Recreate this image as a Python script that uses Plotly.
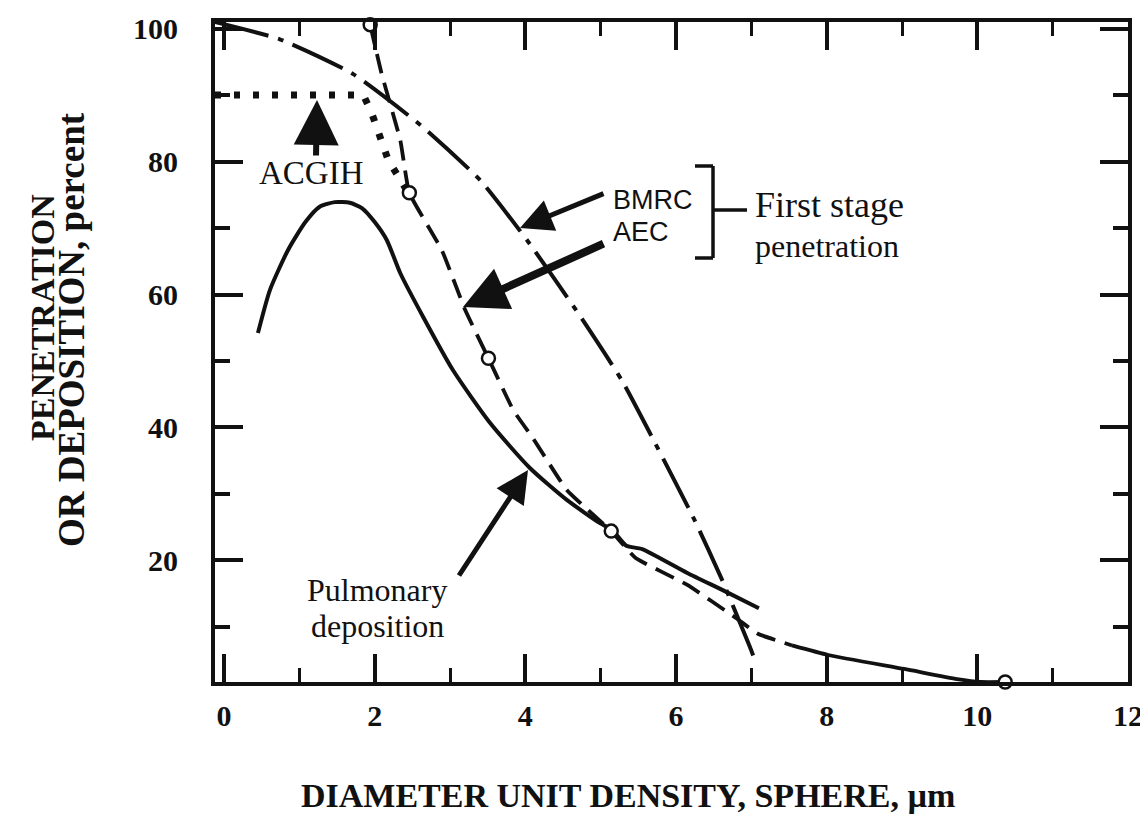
import plotly.graph_objects as go

# ---------------- data ----------------
bmrc_x = [-0.12, 0.74, 1.71, 2.64, 3.40, 4.04, 4.70, 5.28, 5.72, 6.24, 6.61, 6.98, 7.04]
bmrc_y = [101.0, 98.4, 93.2, 85.2, 77.2, 67.9, 57.2, 47.1, 37.7, 26.2, 17.1, 7.0, 5.2]

aec_x = [1.94, 2.09, 2.34, 2.46, 2.89, 3.20, 3.51, 3.84, 4.10, 4.55, 5.14, 5.46, 6.15,
         6.80, 7.08, 7.54, 8.02, 9.03, 9.73, 10.04, 10.37]
aec_y = [100.6, 93.3, 83.2, 75.3, 66.7, 57.7, 50.4, 42.6, 38.4, 30.6, 24.4, 20.4, 16.3,
         11.3, 9.0, 7.2, 5.76, 3.66, 2.15, 1.7, 1.7]
aec_circle_x = [1.94, 2.46, 3.51, 5.14, 10.37]
aec_circle_y = [100.6, 75.3, 50.4, 24.4, 1.7]

pulm_x = [0.45, 0.61, 0.85, 1.08, 1.27, 1.47, 1.67, 1.83, 2.00, 2.16, 2.34, 2.64, 3.04,
          3.53, 4.06, 4.55, 4.99, 5.15, 5.34, 5.55, 6.15, 6.66, 7.10]
pulm_y = [54.2, 60.7, 66.7, 70.9, 73.2, 73.9, 73.8, 73.0, 70.9, 68.2, 63.2, 56.7, 48.6,
          40.7, 33.9, 29.1, 25.6, 24.6, 22.2, 21.7, 18.1, 15.3, 12.8]

acgih_x = [-0.12, 1.85, 1.96, 2.09, 2.18, 2.29, 2.44]
acgih_y = [90.0, 90.0, 87.3, 82.8, 80.2, 78.2, 75.4]

x_ticks = [0, 2, 4, 6, 8, 10, 12]
y_ticks = [20, 40, 60, 80, 100]

# ---------------- layout geometry ----------------
PAGE = 8                      # default body margin of the html page
VW, VH = 1148, 824            # browser window
PL, PT, PR, PB = 215, 22, 1128, 682   # wanted plot box in window pixels
W, H = VW - PAGE, VH - PAGE
L, T = PL - PAGE, PT - PAGE
R = W - (PR - PAGE)
B = H - (PB - PAGE)
XR = [-0.12, 12.0]
YR = [1.7, 101.0]
pw, ph = PR - PL, PB - PT

def X(px):
    return XR[0] + (px - PL) * (XR[1] - XR[0]) / pw

def Y(py):
    return YR[0] + (PB - py) * (YR[1] - YR[0]) / ph

INK = "#111111"
SERIF = "Liberation Serif, Times New Roman, serif"
SANS = "Liberation Sans, Arial, sans-serif"

fig = go.Figure()

split = aec_x.index(7.54)
fig.add_trace(go.Scatter(x=aec_x[:split + 1], y=aec_y[:split + 1], mode="lines",
                         line=dict(color=INK, width=3.8, dash="20px,10px", shape="spline", smoothing=0.4),
                         showlegend=False, hoverinfo="skip"))
fig.add_trace(go.Scatter(x=aec_x[split:], y=aec_y[split:], mode="lines",
                         line=dict(color=INK, width=3.8, shape="spline", smoothing=0.5),
                         showlegend=False, hoverinfo="skip"))
fig.add_trace(go.Scatter(x=bmrc_x, y=bmrc_y, mode="lines",
                         line=dict(color=INK, width=4, dash="55px,10px,6px,10px", shape="spline", smoothing=0.5),
                         showlegend=False, hoverinfo="skip"))
fig.add_trace(go.Scatter(x=pulm_x, y=pulm_y, mode="lines",
                         line=dict(color=INK, width=4, shape="spline", smoothing=0.6),
                         showlegend=False, hoverinfo="skip"))
fig.add_trace(go.Scatter(x=acgih_x, y=acgih_y, mode="lines",
                         line=dict(color=INK, width=7, dash="6px,13px"),
                         showlegend=False, hoverinfo="skip"))
fig.add_trace(go.Scatter(x=aec_circle_x, y=aec_circle_y, mode="markers", cliponaxis=False,
                         marker=dict(symbol="circle", size=13, color="white",
                                     line=dict(color=INK, width=2.5)),
                         showlegend=False, hoverinfo="skip"))

axis_common = dict(showline=True, linecolor=INK, linewidth=4, mirror="ticks",
                   ticks="inside", tickcolor=INK, tickwidth=3.5, ticklen=28,
                   showgrid=False, zeroline=False,
                   tickfont=dict(family=SERIF, size=30, color=INK, weight="bold"))

fig.update_xaxes(range=XR, tickvals=x_ticks, ticktext=[str(v) for v in x_ticks],
                 minor=dict(tickvals=[1, 3, 5, 7, 9, 11], ticklen=14, tickwidth=3, tickcolor=INK,
                            ticks="inside"),
                 ticklabelstandoff=4, **axis_common)
fig.update_yaxes(range=YR, tickvals=y_ticks, ticktext=[str(v) for v in y_ticks],
                 minor=dict(tickvals=[10, 30, 50, 70, 90], ticklen=15, tickwidth=3.5, tickcolor=INK,
                            ticks="inside"),
                 ticklabelstandoff=27, **axis_common)

ann = []
def text(px, py, s, size, family=SERIF, anchor="center", bold=False):
    ann.append(dict(x=X(px), y=Y(py), xref="x", yref="y", text=s, showarrow=False,
                    xanchor=anchor, yanchor="middle",
                    font=dict(family=family, size=size, color=INK,
                              weight="bold" if bold else "normal")))

def arrow(tip, tail, width, size):
    ann.append(dict(x=X(tip[0]), y=Y(tip[1]), ax=X(tail[0]), ay=Y(tail[1]),
                    xref="x", yref="y", axref="x", ayref="y", text="", showarrow=True,
                    arrowhead=2, arrowwidth=width, arrowsize=size, arrowcolor=INK))

text(311, 173, "ACGIH", 33)
arrow((317, 100), (316, 157), 6, 1.5)
text(611, 200, "BMRC", 27, family=SANS, anchor="left")
text(611, 232, "AEC", 27, family=SANS, anchor="left")
arrow((520, 228), (605, 193), 5, 1.3)
arrow((463, 307), (605, 243), 8, 1.1)
text(753, 205, "First stage", 36, anchor="left")
text(753, 246, "penetration", 32, anchor="left")
text(377, 590, "Pulmonary", 32)
text(377, 626, "deposition", 32)
arrow((528, 470), (458, 577), 5, 1.3)

# x-axis title and y-axis title (paper coords relative to the plot box)
ann.append(dict(x=(628 - PL) / pw, y=(PB - 795) / ph, xref="paper", yref="paper",
                text="DIAMETER UNIT DENSITY, SPHERE, \u00b5m", showarrow=False,
                xanchor="center", yanchor="middle",
                font=dict(family=SERIF, size=34, color=INK, weight="bold")))
ann.append(dict(x=(42 - PL) / pw, y=(PB - 318) / ph, xref="paper", yref="paper",
                text="PENETRATION", showarrow=False, textangle=-90,
                xanchor="center", yanchor="middle",
                font=dict(family=SERIF, size=34, color=INK, weight="bold")))
ann.append(dict(x=(71 - PL) / pw, y=(PB - 330) / ph, xref="paper", yref="paper",
                text="OR DEPOSITION, percent", showarrow=False, textangle=-90,
                xanchor="center", yanchor="middle",
                font=dict(family=SERIF, size=37, color=INK, weight="bold")))

shapes = []
def seg(p, q):
    shapes.append(dict(type="line", xref="x", yref="y", x0=X(p[0]), y0=Y(p[1]),
                       x1=X(q[0]), y1=Y(q[1]), line=dict(color=INK, width=3.5)))
seg((713, 166), (713, 258))
seg((695, 166), (713, 166))
seg((695, 258), (713, 258))
seg((713, 210), (747, 210))

fig.update_layout(width=W, height=H, margin=dict(l=L, r=R, t=T, b=B, autoexpand=False),
                  paper_bgcolor="white", plot_bgcolor="white",
                  annotations=ann, shapes=shapes, showlegend=False)

fig.write_html("out.html")
